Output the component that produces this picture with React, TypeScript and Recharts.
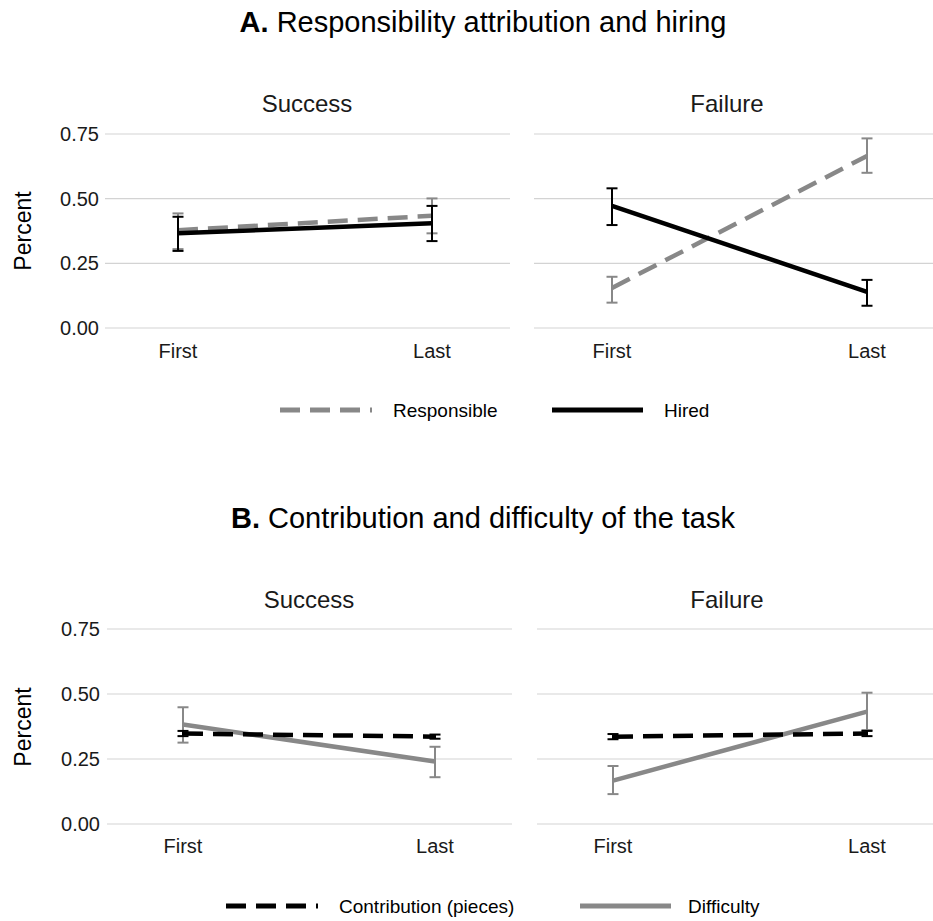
import React from 'react';
import { LineChart, Line, XAxis, YAxis, CartesianGrid, ErrorBar } from 'recharts';

const periods = ['First', 'Last'];
const yTicks = [0, 0.25, 0.5, 0.75];

// Panel A: responsibility attribution and hiring
const respSuccess = [0.378, 0.434];
const respSuccessCI = [[0.305, 0.443], [0.366, 0.501]];
const hiredSuccess = [0.366, 0.405];
const hiredSuccessCI = [[0.298, 0.43], [0.336, 0.472]];
const respFailure = [0.155, 0.665];
const respFailureCI = [[0.098, 0.198], [0.6, 0.733]];
const hiredFailure = [0.472, 0.14];
const hiredFailureCI = [[0.398, 0.54], [0.086, 0.186]];

// Panel B: contribution and difficulty
const contribSuccess = [0.348, 0.336];
const contribSuccessCI = [[0.338, 0.358], [0.328, 0.344]];
const diffSuccess = [0.383, 0.24];
const diffSuccessCI = [[0.313, 0.449], [0.18, 0.297]];
const contribFailure = [0.336, 0.348];
const contribFailureCI = [[0.326, 0.346], [0.338, 0.358]];
const diffFailure = [0.167, 0.432];
const diffFailureCI = [[0.115, 0.223], [0.361, 0.505]];

const GREY = '#888888';
const BLACK = '#000000';
const FONT = '"Liberation Sans", Arial, Helvetica, sans-serif';

const buildRows = (a: number[], aCI: number[][], b: number[], bCI: number[][]) =>
  periods.map((p, i) => ({
    period: p,
    a: a[i],
    aErr: [a[i] - aCI[i][0], aCI[i][1] - a[i]],
    b: b[i],
    bErr: [b[i] - bCI[i][0], bCI[i][1] - b[i]],
  }));

type SeriesStyle = { color: string; dash?: string };

interface FacetProps {
  data: any[];
  left: number;
  top: number;
  width: number;
  height: number;
  marginTop: number;
  yWidth: number;
  showY: boolean;
  padLeft: number;
  padRight: number;
  tickMargin: number;
  yTickMargin?: number;
  styleA: SeriesStyle;
  styleB: SeriesStyle;
  order: ('a' | 'b')[];
}

const Facet: React.FC<FacetProps> = (p) => {
  const styles = { a: p.styleA, b: p.styleB };
  return (
    <div style={{ position: 'absolute', left: p.left, top: p.top }}>
      <LineChart
        width={p.width}
        height={p.height}
        data={p.data}
        margin={{ top: p.marginTop, right: 0, bottom: 0, left: 0 }}
      >
        <CartesianGrid vertical={false} stroke="#d3d3d3" strokeWidth={1.2} />
        <XAxis
          dataKey="period"
          axisLine={false}
          tickLine={false}
          tickSize={0}
          tickMargin={p.tickMargin}
          height={42}
          padding={{ left: p.padLeft, right: p.padRight }}
          tick={{ fontSize: 20, fill: '#1a1a1a' }}
        />
        <YAxis
          domain={[0, 0.75]}
          ticks={yTicks}
          hide={!p.showY}
          width={p.yWidth}
          axisLine={false}
          tickLine={false}
          tickSize={0}
          tickMargin={p.yTickMargin ?? 6}
          tickFormatter={(v: number) => v.toFixed(2)}
          tick={{ fontSize: 20, fill: '#1a1a1a' }}
        />
        {p.order.map((k) => (
          <Line
            key={k}
            type="linear"
            dataKey={k}
            stroke={styles[k].color}
            strokeWidth={4.5}
            strokeDasharray={styles[k].dash}
            dot={false}
            activeDot={false}
            isAnimationActive={false}
          >
            <ErrorBar
              dataKey={k + 'Err'}
              direction="y"
              width={5.5}
              stroke={styles[k].color}
              strokeWidth={2}
              isAnimationActive={false}
            />
          </Line>
        ))}
      </LineChart>
    </div>
  );
};

const LegendKey = ({ x, y, len, color, dash }: { x: number; y: number; len: number; color: string; dash?: string }) => (
  <line x1={x} y1={y} x2={x + len} y2={y} stroke={color} strokeWidth={5} strokeDasharray={dash} />
);

const DASH = '20 10';

export default function App() {
  const respStyle = { color: GREY, dash: DASH };
  const hiredStyle = { color: BLACK };
  const contribStyle = { color: BLACK, dash: DASH };
  const diffStyle = { color: GREY };

  return (
    <div
      style={{
        position: 'absolute',
        left: 0,
        top: 0,
        width: 933,
        height: 921,
        background: '#fff',
        fontFamily: FONT,
        overflow: 'hidden',
      }}
    >
      <Facet
        data={buildRows(respSuccess, respSuccessCI, hiredSuccess, hiredSuccessCI)}
        left={0} top={0} width={510} height={370} marginTop={134}
        yWidth={105} showY padLeft={73} padRight={78} tickMargin={16}
        styleA={respStyle} styleB={hiredStyle} order={['a', 'b']}
      />
      <Facet
        data={buildRows(respFailure, respFailureCI, hiredFailure, hiredFailureCI)}
        left={534} top={0} width={399} height={370} marginTop={134}
        yWidth={0} showY={false} padLeft={78} padRight={66} tickMargin={16}
        styleA={respStyle} styleB={hiredStyle} order={['a', 'b']}
      />
      <Facet
        data={buildRows(contribSuccess, contribSuccessCI, diffSuccess, diffSuccessCI)}
        left={0} top={496} width={512} height={370} marginTop={133}
        yWidth={107} showY yTickMargin={7} padLeft={76} padRight={77} tickMargin={15}
        styleA={contribStyle} styleB={diffStyle} order={['b', 'a']}
      />
      <Facet
        data={buildRows(contribFailure, contribFailureCI, diffFailure, diffFailureCI)}
        left={537} top={496} width={396} height={370} marginTop={133}
        yWidth={0} showY={false} padLeft={76} padRight={66} tickMargin={15}
        styleA={contribStyle} styleB={diffStyle} order={['b', 'a']}
      />

      <svg
        width={933}
        height={921}
        style={{ position: 'absolute', left: 0, top: 0, pointerEvents: 'none', fontFamily: FONT }}
      >
        {/* titles */}
        <text x={483} y={32} textAnchor="middle" fontSize={29} fill="#000">
          <tspan fontWeight="bold">A.</tspan> Responsibility attribution and hiring
        </text>
        <text x={483} y={528} textAnchor="middle" fontSize={29} fill="#000">
          <tspan fontWeight="bold">B.</tspan> Contribution and difficulty of the task
        </text>

        {/* facet strips */}
        <text x={307} y={112} textAnchor="middle" fontSize={24} fill="#1a1a1a">Success</text>
        <text x={727} y={112} textAnchor="middle" fontSize={24} fill="#1a1a1a">Failure</text>
        <text x={309} y={608} textAnchor="middle" fontSize={24} fill="#1a1a1a">Success</text>
        <text x={727} y={608} textAnchor="middle" fontSize={24} fill="#1a1a1a">Failure</text>

        {/* y labels */}
        <text transform="translate(31,231) rotate(-90)" textAnchor="middle" fontSize={23} fill="#000">Percent</text>
        <text transform="translate(31,727) rotate(-90)" textAnchor="middle" fontSize={23} fill="#000">Percent</text>

        {/* legend A */}
        <LegendKey x={280} y={410} len={92} color={GREY} dash={DASH} />
        <text x={393} y={417} fontSize={19} fill="#000">Responsible</text>
        <LegendKey x={552} y={410} len={91} color={BLACK} />
        <text x={664} y={417} fontSize={19} fill="#000">Hired</text>

        {/* legend B */}
        <LegendKey x={226} y={906} len={92} color={BLACK} dash={DASH} />
        <text x={339} y={913} fontSize={19} fill="#000">Contribution (pieces)</text>
        <LegendKey x={580} y={906} len={91} color={GREY} />
        <text x={688} y={913} fontSize={19} fill="#000">Difficulty</text>
      </svg>
    </div>
  );
}
